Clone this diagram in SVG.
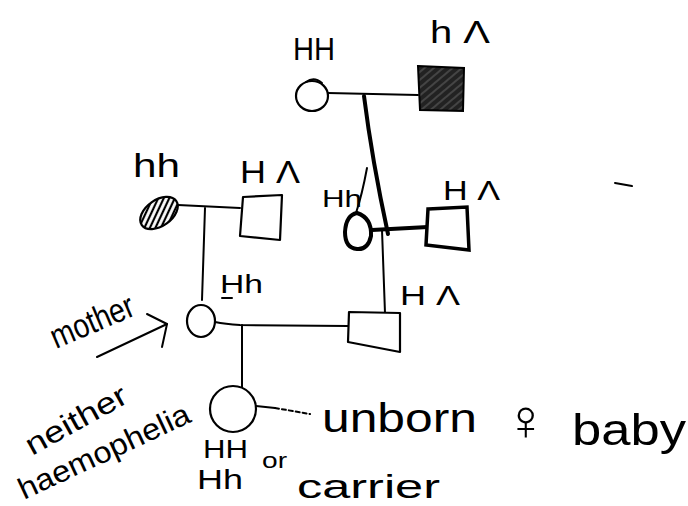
<svg xmlns="http://www.w3.org/2000/svg" width="688" height="506" viewBox="0 0 688 506">
<defs>
<style>
.ln{fill:none;stroke:#000;stroke-width:2;stroke-linecap:round;stroke-linejoin:round}
.bold{fill:none;stroke:#000;stroke-width:4;stroke-linecap:round;stroke-linejoin:round}
.sym{fill:#fff;stroke:#000;stroke-width:2.2;stroke-linejoin:round}
.t{font-family:"Liberation Sans","DejaVu Sans",sans-serif;fill:#000}
</style>
<pattern id="scrib" patternUnits="userSpaceOnUse" width="6" height="6" patternTransform="rotate(-40)">
<rect width="6" height="6" fill="#222"/>
<line x1="0" y1="1" x2="6" y2="1" stroke="#777" stroke-width="0.8"/>
</pattern>
<pattern id="hatch" patternUnits="userSpaceOnUse" width="5" height="5" patternTransform="rotate(-30)">
<rect width="5" height="5" fill="#fff"/>
<line x1="0" y1="2" x2="5" y2="2" stroke="#000" stroke-width="2.2"/>
</pattern>
</defs>
<rect width="688" height="506" fill="#fff"/>

<g id="connectors">
<path class="ln" d="M328,93 L418,95"/>
<path class="bold" d="M364,96 Q372,160 388,234"/>
<path class="ln" d="M367,168 Q362,195 356,213"/>
<path class="bold" d="M372,230 L428,227"/>
<path class="ln" d="M382,230 L385,313"/>
<path class="ln" d="M178,205 L240,208"/>
<path class="ln" d="M205,208 L202,300"/>
<path class="ln" d="M215,322 Q225,324 240,325 L348,326"/>
<path class="ln" d="M242,325 L242,387"/>
<path class="ln" d="M256,406 L275,408"/>
<path class="ln" d="M275,408 L310,414" stroke-dasharray="4 3"/>
<path class="ln" d="M615,183 L632,186" stroke-width="2.5"/>
</g>

<g id="grandmother-paternal">
<ellipse class="sym" cx="312" cy="96" rx="16" ry="15"/>
<path class="ln" d="M306,82 Q314,76 322,83" stroke-width="1.5"/>
</g>
<g id="grandfather-affected">
<path d="M418,66 L464,68 L463,111 L420,110 Z" fill="url(#scrib)" stroke="#000" stroke-width="2"/>
</g>
<g id="maternal-grandmother-hh">
<ellipse cx="159" cy="213" rx="21" ry="13" transform="rotate(-35 159 213)" fill="url(#hatch)" stroke="#000" stroke-width="2.2"/>
</g>
<g id="maternal-grandfather">
<path class="sym" d="M243,197 L282,195 L280,240 L240,236 Z"/>
</g>
<g id="paternal-grandmother-carrier">
<path d="M357,213 Q372,218 371,236 Q368,250 357,249 Q345,248 345,232 Q346,215 357,213 Z" fill="#fff" stroke="#000" stroke-width="4"/>
</g>
<g id="paternal-grandfather">
<path d="M428,209 L467,207 L469,250 L426,245 Z" fill="#fff" stroke="#000" stroke-width="3.5"/>
</g>
<g id="mother">
<ellipse class="sym" cx="201" cy="321" rx="14" ry="16"/>
</g>
<g id="father">
<path class="sym" d="M349,312 L400,313 L400,352 L348,342 Z"/>
</g>
<g id="unborn-baby">
<circle class="sym" cx="233" cy="409" r="23"/>
</g>

<g id="labels">
<text class="t" x="293" y="60" font-size="32" textLength="42" lengthAdjust="spacingAndGlyphs">HH</text>
<text class="t" x="430" y="43" font-size="32" textLength="60" lengthAdjust="spacingAndGlyphs">h Λ</text>
<text class="t" x="133" y="177" font-size="34" textLength="47" lengthAdjust="spacingAndGlyphs">hh</text>
<text class="t" x="240" y="183" font-size="32" textLength="60" lengthAdjust="spacingAndGlyphs">H Λ</text>
<text class="t" x="322" y="207" font-size="24" textLength="40" lengthAdjust="spacingAndGlyphs">Hh</text>
<text class="t" x="443" y="200" font-size="28" textLength="57" lengthAdjust="spacingAndGlyphs">H Λ</text>
<text class="t" x="220" y="293" font-size="26" textLength="43" lengthAdjust="spacingAndGlyphs">Hh</text>
<path class="ln" d="M222,298 L232,298" stroke-width="1.5"/>
<text class="t" x="400" y="305" font-size="28" textLength="60" lengthAdjust="spacingAndGlyphs">H Λ</text>
<text class="t" x="0" y="0" font-size="34" textLength="88" lengthAdjust="spacingAndGlyphs" transform="translate(56,349) rotate(-23)">mother</text>
<path class="ln" d="M97,357 L167,324" stroke-width="4"/>
<path class="ln" d="M147,314 L167,324 L162,347" stroke-width="3"/>
<text class="t" x="0" y="0" font-size="30" textLength="112" lengthAdjust="spacingAndGlyphs" transform="translate(32,456) rotate(-29)">neither</text>
<text class="t" x="0" y="0" font-size="30" textLength="186" lengthAdjust="spacingAndGlyphs" transform="translate(24,500) rotate(-25)">haemophelia</text>
<text class="t" x="203" y="458" font-size="26" textLength="45" lengthAdjust="spacingAndGlyphs">HH</text>
<text class="t" x="197" y="489" font-size="28" textLength="46" lengthAdjust="spacingAndGlyphs">Hh</text>
<text class="t" x="262" y="468" font-size="22" textLength="25" lengthAdjust="spacingAndGlyphs">or</text>
<text class="t" x="297" y="498" font-size="34" textLength="143" lengthAdjust="spacingAndGlyphs">carrier</text>
<text class="t" x="322" y="432" font-size="40" textLength="155" lengthAdjust="spacingAndGlyphs">unborn</text>
<text class="t" x="504" y="440" font-size="58">♀</text>
<text class="t" x="572" y="445" font-size="44" textLength="114" lengthAdjust="spacingAndGlyphs">baby</text>
</g>
</svg>
